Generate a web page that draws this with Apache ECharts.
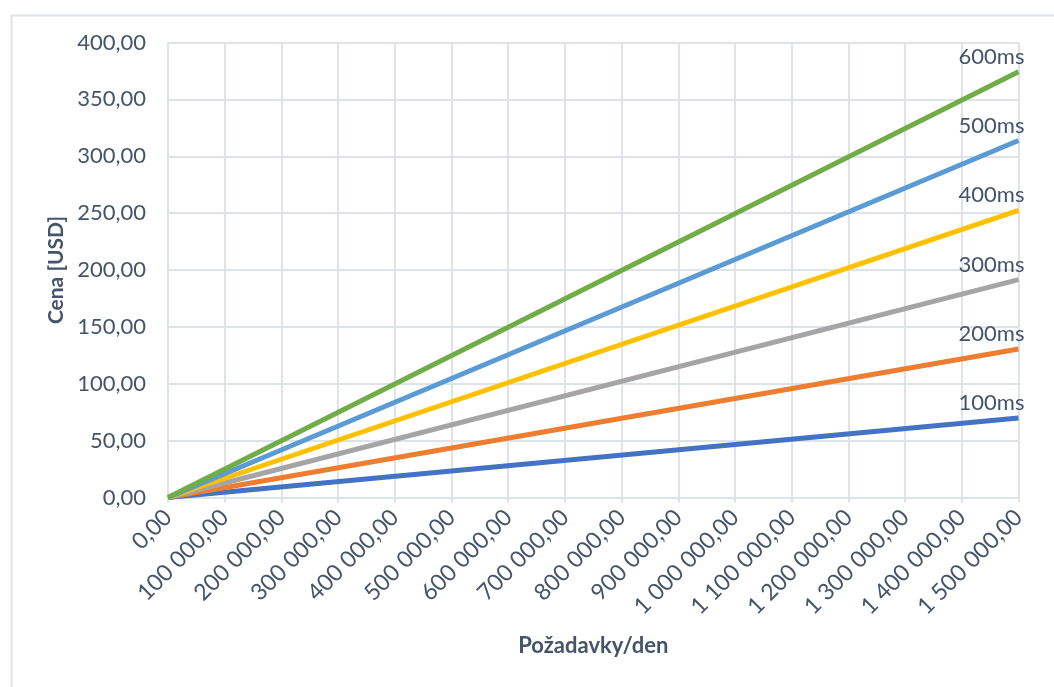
<!DOCTYPE html>
<html>
<head>
<meta charset="utf-8">
<style>
  html, body { margin: 0; padding: 0; background: #fff; }
  #chart { width: 1054px; height: 687px; }
</style>
<script src="https://cdn.jsdelivr.net/npm/echarts@6/dist/echarts.min.js"></script>
</head>
<body>
<div id="chart"></div>
<script>
// Requests per day (x) and daily cost in USD for each execution time
const requestsPerDay = [0, 1500000];
const cost100ms = [0, 69.8];
const cost200ms = [0, 130.6];
const cost300ms = [0, 191.6];
const cost400ms = [0, 252.5];
const cost500ms = [0, 313.8];
const cost600ms = [0, 374.2];

const seriesNames = ['100ms', '200ms', '300ms', '400ms', '500ms', '600ms'];
const seriesValues = [cost100ms, cost200ms, cost300ms, cost400ms, cost500ms, cost600ms];
const seriesColors = ['#4472C4', '#ED7D31', '#A5A5A5', '#FFC000', '#5B9BD5', '#70AD47'];

const textColor = '#44546A';
const gridColor = '#DEE2E9';
const fontFamily = 'Lato, "Open Sans", sans-serif';

// Czech style number: space as thousands separator, comma as decimal mark
function fmt(v) {
  const parts = Number(v).toFixed(2).split('.');
  const intPart = parts[0].replace(/\B(?=(\d{3})+(?!\d))/g, ' ');
  return intPart + ',' + parts[1];
}

const chart = echarts.init(document.getElementById('chart'), null, { renderer: 'canvas' });

chart.setOption({
  backgroundColor: '#ffffff',
  animation: false,
  graphic: [{
    type: 'rect',
    left: 9, top: 13,
    shape: { width: 1100, height: 720 },
    style: { fill: 'none', stroke: gridColor, lineWidth: 2 },
    silent: true,
    z: -1
  }],
  grid: { left: 168, right: 35.5, top: 42.5, bottom: 189.5 },
  xAxis: {
    type: 'value',
    min: 0, max: 1500000, interval: 100000,
    name: 'Požadavky/den',
    nameLocation: 'middle',
    nameGap: 137,
    nameTextStyle: { color: textColor, fontWeight: 'bold', fontSize: 22, fontFamily: fontFamily },
    axisLine: { show: true, lineStyle: { color: gridColor, width: 2 } },
    axisTick: { show: true, length: 5, lineStyle: { color: gridColor, width: 2 } },
    splitLine: { show: true, lineStyle: { color: gridColor, width: 2 } },
    axisLabel: {
      rotate: 45, margin: 16,
      color: textColor, fontSize: 23, fontFamily: fontFamily,
      formatter: fmt
    }
  },
  yAxis: {
    type: 'value',
    min: 0, max: 400, interval: 50,
    name: 'Cena [USD]',
    nameLocation: 'middle',
    nameGap: 99,
    nameTextStyle: { color: textColor, fontWeight: 'bold', fontSize: 21, fontFamily: fontFamily },
    axisLine: { show: false },
    axisTick: { show: false },
    splitLine: { show: true, lineStyle: { color: gridColor, width: 2 } },
    axisLabel: {
      margin: 22,
      color: textColor, fontSize: 22, fontFamily: fontFamily,
      formatter: fmt
    }
  },
  series: seriesNames.map((name, i) => ({
    name: name,
    type: 'line',
    data: requestsPerDay.map((x, j) => [x, seriesValues[i][j]]),
    showSymbol: false,
    symbol: 'none',
    lineStyle: { color: seriesColors[i], width: 5, cap: 'butt' },
    itemStyle: { color: seriesColors[i] },
    z: 2 + i,
    endLabel: {
      show: true,
      formatter: '{a}',
      distance: 0,
      align: 'center',
      verticalAlign: 'middle',
      offset: [-27, -15],
      color: textColor,
      fontSize: 22,
      fontFamily: fontFamily
    }
  }))
});
</script>
</body>
</html>
